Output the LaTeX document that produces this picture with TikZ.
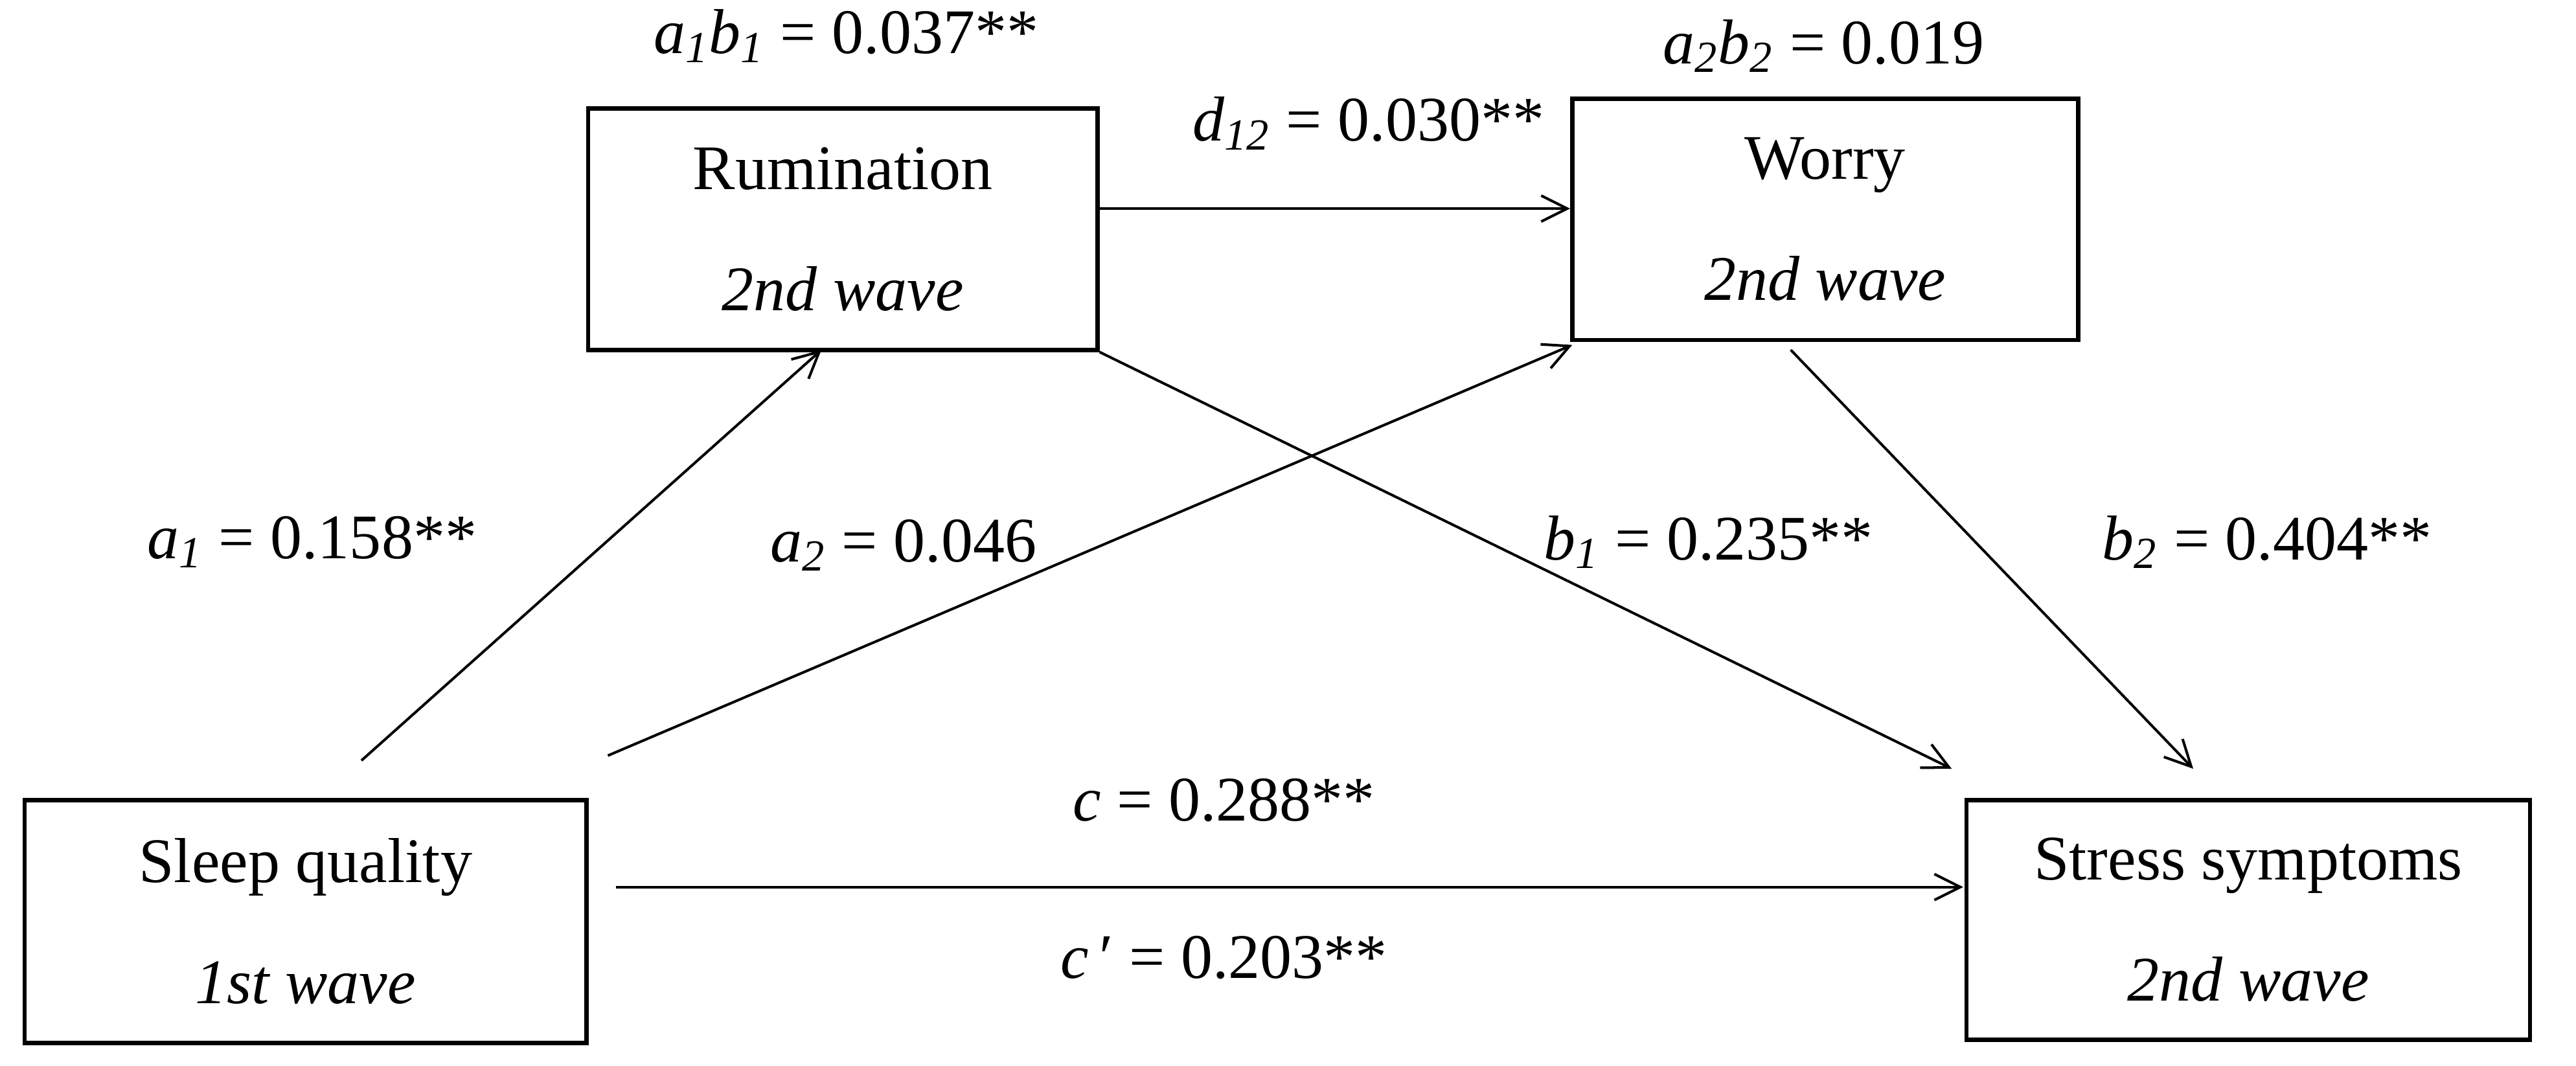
\documentclass[tikz,border=0pt]{standalone}
\usepackage{fontspec}
\setmainfont{Liberation Serif}
\usetikzlibrary{arrows.meta}
\begin{document}
\begin{tikzpicture}[x=0.02cm,y=-0.02cm,
  box/.style={draw,line width=1.5pt,align=center,inner sep=0pt,font=\fontsize{22}{42}\selectfont},
  arr/.style={line width=0.9pt,-{Straight Barb[length=9pt,width=9pt,line width=0.9pt]}},
  lab/.style={font=\fontsize{22}{26}\selectfont,inner sep=0pt}]
\useasboundingbox (0,0) rectangle (1568,648.6);
\node[box,minimum width=310*0.02cm,minimum height=147*0.02cm] (rum) at (513,139.5) {Rumination\\\textit{2nd wave}};
\node[box,minimum width=308*0.02cm,minimum height=147*0.02cm] (wor) at (1111,133.5) {Worry\\\textit{2nd wave}};
\node[box,minimum width=342*0.02cm,minimum height=148*0.02cm] (sle) at (186,561) {Sleep quality\\\textit{1st wave}};
\node[box,minimum width=343*0.02cm,minimum height=146*0.02cm] (str) at (1368.5,560) {Stress symptoms\\\textit{2nd wave}};
\coordinate (s1) at (220,463);
\coordinate (s2) at (370,460);
\coordinate (s3) at (375,540);
\coordinate (r1) at (500,213);
\coordinate (w1) at (957,210);
\coordinate (w2) at (1090,213);
\coordinate (t1) at (1188,468);
\coordinate (t2) at (1335,468);
\coordinate (t3) at (1195,540);
\draw[arr] (rum.east |- 0,127) -- (wor.west |- 0,127);
\draw[arr] (s1) -- (r1);
\draw[arr] (s2) -- (w1);
\draw[arr] (rum.south east) -- (t1);
\draw[arr] (w2) -- (t2);
\draw[arr] (s3) -- (t3);
\node[lab] (l1) at (515,22) {\textit{a\textsubscript{1}b\textsubscript{1}} = 0.037**};
\node[lab] (l2) at (1110,28) {\textit{a\textsubscript{2}b\textsubscript{2}} = 0.019};
\node[lab] (l3) at (833,75) {\textit{d\textsubscript{12}} = 0.030**};
\node[lab] (l4) at (190,330) {\textit{a\textsubscript{1}} = 0.158**};
\node[lab] (l5) at (550,332) {\textit{a\textsubscript{2}} = 0.046};
\node[lab] (l6) at (1040,330) {\textit{b\textsubscript{1}} = 0.235**};
\node[lab] (l7) at (1380,330) {\textit{b\textsubscript{2}} = 0.404**};
\node[lab] (l8) at (745,487) {\textit{c} = 0.288**};
\node[lab] (l9) at (745,583) {\textit{c}\,′ = 0.203**};
\end{tikzpicture}
\end{document}
